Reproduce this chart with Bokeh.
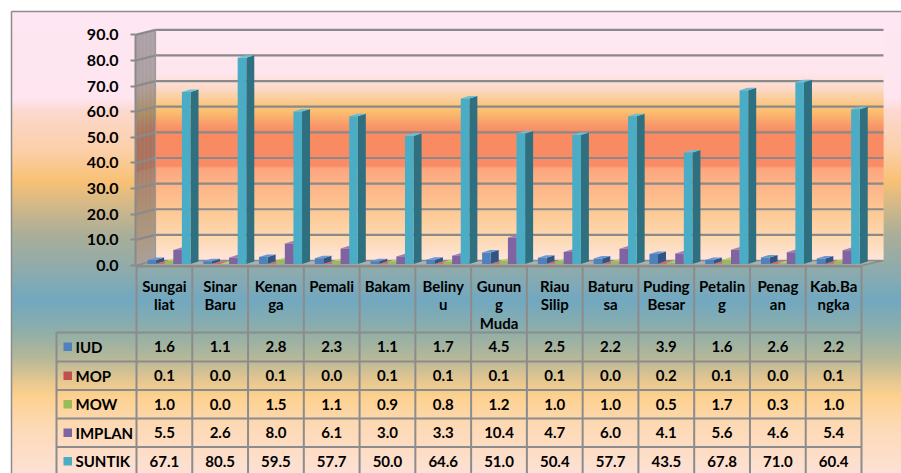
import numpy as np
from bokeh.plotting import figure
from bokeh.models import Range1d, LinearAxis, FixedTicker, PrintfTickFormatter
from bokeh.core.properties import value
from bokeh.embed import file_html
from bokeh.resources import INLINE

# ---------------- data ----------------
CATEGORIES = ["Sungai\nliat", "Sinar\nBaru", "Kenan\nga", "Pemali", "Bakam", "Beliny\nu",
              "Gunun\ng\nMuda", "Riau\nSilip", "Baturu\nsa", "Puding\nBesar", "Petalin\ng",
              "Penag\nan", "Kab.Ba\nngka"]
SERIES = ["IUD", "MOP", "MOW", "IMPLAN", "SUNTIK"]
IUD = [1.6, 1.1, 2.8, 2.3, 1.1, 1.7, 4.5, 2.5, 2.2, 3.9, 1.6, 2.6, 2.2]
MOP = [0.1, 0.0, 0.1, 0.0, 0.1, 0.1, 0.1, 0.1, 0.0, 0.2, 0.1, 0.0, 0.1]
MOW = [1.0, 0.0, 1.5, 1.1, 0.9, 0.8, 1.2, 1.0, 1.0, 0.5, 1.7, 0.3, 1.0]
IMPLAN = [5.5, 2.6, 8.0, 6.1, 3.0, 3.3, 10.4, 4.7, 6.0, 4.1, 5.6, 4.6, 5.4]
SUNTIK = [67.1, 80.5, 59.5, 57.7, 50.0, 64.6, 51.0, 50.4, 57.7, 43.5, 67.8, 71.0, 60.4]
YTICKS = [0, 10, 20, 30, 40, 50, 60, 70, 80, 90]

VALUES = [IUD, MOP, MOW, IMPLAN, SUNTIK]
FRONT = ["#4f81bd", "#c0504d", "#9bbb59", "#8064a2", "#4bacc6"]
SIDE = ["#2e5584", "#84302e", "#6a853a", "#56426f", "#2e6f80"]
TOPC = ["#6b98cf", "#d26c69", "#b2cf72", "#9a80bd", "#66c0d8"]

# ---------------- layout helpers (page pixels -> data units) ----------------
W, H = 901, 473
PAGE = 0
N = len(CATEGORIES)
CW = (861 - 136) / N      # px per category on the front plane
PY = 2.563                # px per value unit


def xd(px):
    return (px - 136) / CW


def yd(py):
    return (265 - py) / PY


def hex2rgb(h):
    h = h.lstrip("#")
    return np.array([int(h[i:i + 2], 16) for i in (0, 2, 4)], dtype=float)


def grad(stops, y):
    ys = [s[0] for s in stops]
    cs = np.array([hex2rgb(s[1]) for s in stops])
    rgb = [np.interp(y, ys, cs[:, c]) for c in range(3)]
    return "#%02x%02x%02x" % tuple(int(round(v)) for v in rgb)


def mix(h, other, a):
    c = hex2rgb(h) * (1 - a) + hex2rgb(other) * a
    return "#%02x%02x%02x" % tuple(int(round(v)) for v in c)


CHART_STOPS = [(11, "#fee7f2"), (98, "#fee5ef"), (112, "#fcd8cc"), (150, "#fbcfa8"),
               (180, "#f9c176"), (205, "#d2b888"), (235, "#a9ae98"), (268, "#8fabab"),
               (300, "#72a8c0"), (330, "#8daea9"), (358, "#b6b898"), (382, "#e8c890"),
               (396, "#fdd18e"), (425, "#fdd9b4"), (475, "#fde1d6")]
PLOT_STOPS = [(29, "#fee8f2"), (72, "#fee6ee"), (88, "#fdd9c8"), (104, "#fbc681"),
              (112, "#fbbc6e"), (124, "#f99a6c"), (132, "#f98a62"), (166, "#f98c66"),
              (167.5, "#fca67f"), (190, "#fdb889"), (215, "#fdcb98"), (238, "#fdd9b2"),
              (260, "#fee5dc")]

p = figure(width=W, height=H,
           x_range=Range1d(xd(PAGE), xd(PAGE + W)),
           y_range=Range1d(yd(PAGE + H), yd(PAGE)),
           output_backend="svg", toolbar_location=None,
           x_axis_location=None, y_axis_location=None, min_border=0)
p.grid.grid_line_color = None
p.outline_line_color = None
p.background_fill_color = "white"
p.border_fill_color = "white"

# chart-area gradient
rows = np.arange(11, PAGE + H + 1)
p.quad(left=xd(11), right=xd(PAGE + W + 2), top=[yd(r) for r in rows],
       bottom=[yd(r + 1.6) for r in rows], fill_color=[grad(CHART_STOPS, r + 0.5) for r in rows],
       line_color=None)

# plot-area (back wall) gradient
prow = np.arange(29, 260)
p.quad(left=xd(155), right=xd(883), top=[yd(r) for r in prow],
       bottom=[yd(min(r + 1.6, 260)) for r in prow],
       fill_color=[grad(PLOT_STOPS, r + 0.5) for r in prow], line_color=None)

# side wall (left)
sx = [[xd(135), xd(155), xd(155), xd(135)] for r in prow]
sy = [[yd(r + 5), yd(r), yd(min(r + 1.6, 260)), yd(min(r + 6.6, 265))] for r in prow]
p.patches(xs=sx, ys=sy, fill_color=[mix(grad(PLOT_STOPS, r + 0.5), "#5a5a5a", 0.5) for r in prow],
          line_color=None)

# gridlines on back wall and side wall
gv = np.array(YTICKS[1:], dtype=float)
back = 5 / PY
p.segment(x0=xd(155), y0=gv + back, x1=xd(883), y1=gv + back, line_color="#8a8a8a", line_width=2.2)
p.segment(x0=xd(135), y0=gv, x1=xd(155), y1=gv + back, line_color="#8a8a8a", line_width=2.2)
p.segment(x0=xd(155), y0=[back], x1=xd(155), y1=[90 + back], line_color="#9a9a9a", line_width=1.2)

# floor
p.patch(x=[xd(135), xd(861), xd(883), xd(155)], y=[0, 0, back, back],
        fill_color="#b8b8b8", fill_alpha=0.55, line_color="#8a8a8a", line_width=1.5)

# 3D bars
BASE = (265 - 263.6) / PY
BW = 8.6 / CW
BDX = 8 / CW
BDY = 2.5 / PY
for k, vals in enumerate(VALUES):
    xl = np.arange(N) + (11 + k * 8.6) / CW
    xr = xl + BW
    top = np.array(vals) + BASE
    p.patches(xs=[[r, r + BDX, r + BDX, r] for r in xr],
              ys=[[BASE, BASE + BDY, t + BDY, t] for t in top],
              fill_color=SIDE[k], line_color=None)
    p.patches(xs=[[l, r, r + BDX, l + BDX] for l, r in zip(xl, xr)],
              ys=[[t, t, t + BDY, t + BDY] for t in top],
              fill_color=TOPC[k], line_color=None)
    p.quad(left=xl, right=xr, bottom=BASE, top=top, fill_color=FRONT[k], line_color=None)

# y axis
yaxis = LinearAxis(fixed_location=xd(135), bounds=(0, 90), ticker=FixedTicker(ticks=YTICKS),
                   formatter=PrintfTickFormatter(format="%.1f"),
                   axis_line_color="#8a8a8a", axis_line_width=2,
                   major_tick_out=5, major_tick_in=0, major_tick_line_color="#8a8a8a",
                   major_tick_line_width=2, minor_tick_line_color=None,
                   major_label_standoff=12, major_label_text_font="Lato",
                   major_label_text_font_style="bold", major_label_text_font_size="16px",
                   major_label_text_color="black")
p.add_layout(yaxis, "left")

# data table
ROW_TOPS = [332, 361, 389.5, 418, 446.5]
ROW_H = 28.6
TBL_BOTTOM = PAGE + H + 2
LC = "#8c8c8c"
cols = np.arange(N + 1)
p.segment(x0=cols, y0=yd(265), x1=cols, y1=yd(TBL_BOTTOM), line_color=LC, line_width=2)
p.segment(x0=[xd(56)], y0=[yd(ROW_TOPS[0])], x1=[xd(56)], y1=[yd(TBL_BOTTOM)], line_color=LC, line_width=2)
p.segment(x0=[0], y0=[yd(266)], x1=[N], y1=[yd(266)], line_color=LC, line_width=2)
p.segment(x0=xd(56), y0=[yd(r) for r in ROW_TOPS], x1=N, y1=[yd(r) for r in ROW_TOPS],
          line_color=LC, line_width=2)

FONT = value("Lato")
p.text(x=np.arange(N) + 0.5, y=yd(276), text=CATEGORIES, text_align="center",
       text_baseline="top", text_font=FONT, text_font_style="bold", text_font_size="15px",
       text_color="black", text_line_height=1.05)

centers = [r + ROW_H / 2 for r in ROW_TOPS]
for k, vals in enumerate(VALUES):
    p.text(x=np.arange(N) + 0.5, y=[yd(centers[k])] * N, text=["%.1f" % v for v in vals],
           text_align="center", text_baseline="middle", text_font=FONT,
           text_font_style="bold", text_font_size="15px", text_color="black")

p.quad(left=xd(63), right=xd(71.5), top=[yd(c - 4.2) for c in centers],
       bottom=[yd(c + 4.2) for c in centers], fill_color=FRONT, line_color=None)
p.text(x=xd(75), y=[yd(c) for c in centers], text=SERIES, text_align="left",
       text_baseline="middle", text_font=FONT, text_font_style="bold",
       text_font_size="15px", text_color="black")

# chart border
p.segment(x0=[xd(11), xd(11)], y0=[yd(11), yd(11)], x1=[xd(PAGE + W + 2), xd(11)],
          y1=[yd(11), yd(PAGE + H + 2)], line_color="#8c8c8c", line_width=1.5)

open("out.html", "w").write(file_html(p, INLINE))
